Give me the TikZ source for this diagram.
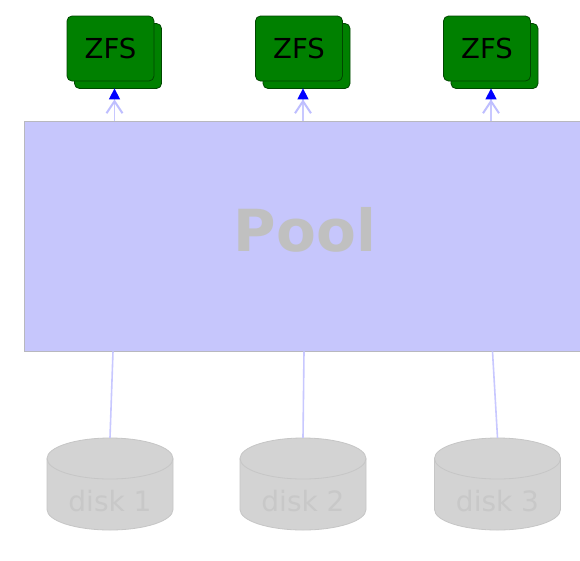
\documentclass[tikz,border=0pt]{standalone}
\usepackage{fontspec}
\setmainfont{DejaVu Sans}
\usetikzlibrary{shadows,arrows.meta}
\definecolor{zfsgreen}{RGB}{0,128,0}
\definecolor{zfsborder}{RGB}{0,70,0}
\definecolor{poolfill}{RGB}{198,198,252}
\definecolor{poolborder}{RGB}{184,184,190}
\definecolor{pooltext}{RGB}{192,192,192}
\definecolor{linkblue}{RGB}{200,200,255}
\definecolor{barbblue}{RGB}{190,190,255}
\definecolor{tipblue}{RGB}{0,0,255}
\definecolor{diskfill}{RGB}{211,211,211}
\definecolor{diskborder}{RGB}{198,198,198}
\definecolor{disktext}{RGB}{200,200,200}
\begin{document}
\begin{tikzpicture}[x=1pt,y=-1pt,
  zfsbox/.style={rectangle, rounded corners=5pt, fill=zfsgreen, draw=zfsborder,
    line width=0.8pt, minimum width=87pt, minimum height=65pt, inner sep=0pt,
    font=\fontsize{27.5}{27.5}\selectfont, text=black,
    copy shadow={shadow xshift=7.5pt, shadow yshift=-7.5pt}},
  poolbox/.style={rectangle, fill=poolfill, draw=poolborder, line width=0.8pt,
    minimum width=558pt, minimum height=230pt, inner sep=0pt},
  pooltitle/.style={font=\bfseries\fontsize{58}{58}\selectfont, text=pooltext, inner sep=0pt},
  disk/.style={rectangle, draw=none, minimum width=128pt, minimum height=94pt, inner sep=0pt,
    path picture={
      \path[fill=diskfill, draw=diskborder, line width=0.8pt]
        ([shift={(-63pt,25.5pt)}]path picture bounding box.center)
        -- ++(0pt,-51pt)
        arc[start angle=180, end angle=360, x radius=63pt, y radius=20.5pt]
        -- ++(0pt,51pt)
        arc[start angle=0, end angle=180, x radius=63pt, y radius=20.5pt] -- cycle;
      \draw[diskborder, line width=0.8pt]
        ([shift={(-63pt,25.5pt)}]path picture bounding box.center)
        arc[start angle=180, end angle=360, x radius=63pt, y radius=20.5pt];
    }},
  disklabel/.style={font=\fontsize{28}{28}\selectfont, text=disktext, inner sep=0pt},
  uplink/.style={draw=linkblue, line width=1.5pt,
    -{Straight Barb[length=12pt,width=16pt,line width=2pt,color=barbblue]Triangle[length=11pt,width=11pt,color=tipblue,fill=tipblue]}},
  downlink/.style={draw=linkblue, line width=1.6pt}
]
\useasboundingbox (0,0) rectangle (580,560);
\clip (0,0) rectangle (580,560);
\fill[white] (0,0) rectangle (580,560);

\node[poolbox] (pool) at (303,236) {};
\node[pooltitle] (pooltxt) at (305,230) {Pool};

\node[zfsbox] (zfs1) at (110.5,48.5) {ZFS};
\node[zfsbox] (zfs2) at (299,48.5) {ZFS};
\node[zfsbox] (zfs3) at (487,48.5) {ZFS};

\coordinate (t1) at ([xshift=4pt,yshift=-7pt]zfs1.south);
\coordinate (t2) at ([xshift=4pt,yshift=-7pt]zfs2.south);
\coordinate (t3) at ([xshift=4pt,yshift=-7pt]zfs3.south);
\draw[uplink] (pool.north -| t1) -- (t1);
\draw[uplink] (pool.north -| t2) -- (t2);
\draw[uplink] (pool.north -| t3) -- (t3);

\node[disk] (disk1) at (110,484) {};
\node[disk] (disk2) at (303,484) {};
\node[disk] (disk3) at (497.5,484) {};
\node[disklabel] (d1t) at (110,501) {disk 1};
\node[disklabel] (d2t) at (303,501) {disk 2};
\node[disklabel] (d3t) at (497.5,501) {disk 3};

\draw[downlink] ([xshift=3pt]pool.south -| disk1.north) -- ([yshift=-1pt]disk1.north);
\draw[downlink] ([xshift=1pt]pool.south -| disk2.north) -- ([yshift=-1pt]disk2.north);
\draw[downlink] ([xshift=-5pt]pool.south -| disk3.north) -- ([yshift=-1pt]disk3.north);
\end{tikzpicture}
\end{document}
